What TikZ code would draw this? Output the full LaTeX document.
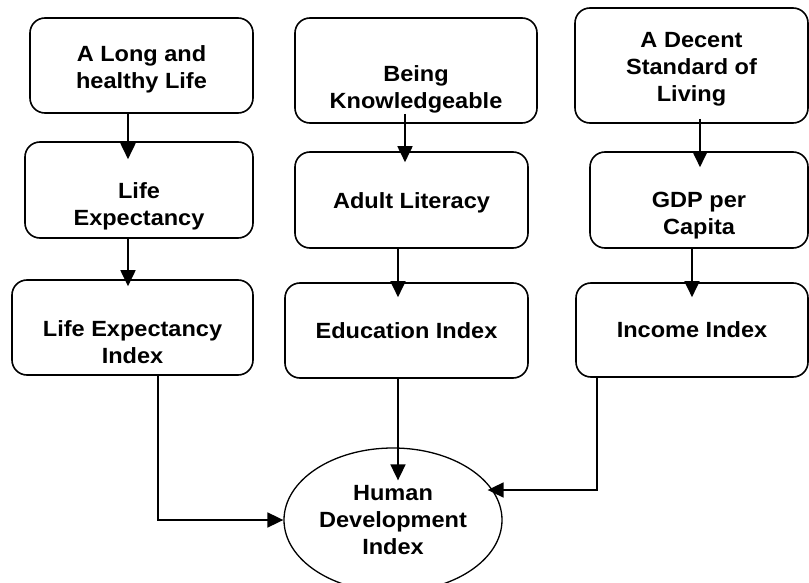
\documentclass[tikz,border=0pt]{standalone}
\usepackage{fontspec}
\setmainfont{Liberation Sans}[FakeStretch=1.07]
\usetikzlibrary{positioning, arrows.meta, calc, shapes.geometric}
% text set lower in its box, box size unchanged
\newcommand\lowered[2]{\raisebox{-#1}[\height][\depth]{\begin{tabular}{@{}c@{}}#2\end{tabular}}}

\begin{document}
\begin{tikzpicture}[x=1pt, y=-1pt,
    box/.style={draw, line width=1.6pt, rounded corners=15pt, fill=white, align=center, inner sep=0pt,
                font=\fontsize{22}{27}\selectfont\bfseries},
    flow/.style={-{Triangle[length=16pt, width=15pt]}, line width=1.8pt}]
    \useasboundingbox (0,0) rectangle (809,583);

    % health column
    \node[box, minimum width=223pt, minimum height=95pt] (life) at (141.5,65.5) {\lowered{4pt}{A Long and\\healthy Life}};
    \node[box, minimum width=228pt, minimum height=96pt] (lifeexp) at (139,190) {\lowered{17pt}{Life\\Expectancy}};
    \node[box, minimum width=241pt, minimum height=95pt] (leindex) at (132.5,327.5) {\lowered{17pt}{Life Expectancy\\Index}};

    % knowledge column
    \node[box, minimum width=242pt, minimum height=105pt] (know) at (416,70.5) {\lowered{19pt}{Being\\Knowledgeable}};
    \node[box, minimum width=233pt, minimum height=96pt] (literacy) at (411.5,200) {\lowered{3pt}{Adult Literacy}};
    \node[box, minimum width=243pt, minimum height=95pt] (eduindex) at (406.5,330.5) {Education Index};

    % income column
    \node[box, minimum width=233pt, minimum height=115pt] (living) at (691.5,65.5) {\lowered{4pt}{A Decent\\Standard of\\Living}};
    \node[box, minimum width=218pt, minimum height=96pt] (gdp) at (699,200) {\lowered{16pt}{GDP per\\Capita}};
    \node[box, minimum width=232pt, minimum height=94pt] (incindex) at (692,330) {Income Index};

    \node[draw, ellipse, line width=1.3pt, minimum width=218pt, minimum height=144pt, inner sep=0pt, align=center,
          font=\fontsize{22}{27}\selectfont\bfseries] (hdi) at (393,520) {Human\\Development\\Index};

    % arrows down each column
    \draw[flow, shorten >=-18pt] ([xshift=-13.5pt]life.south) -- ([xshift=-11pt]lifeexp.north);
    \draw[flow, shorten >=-7pt] ([xshift=-11pt]lifeexp.south) -- ([xshift=-4.5pt]leindex.north);
    \draw[flow, shorten <=-10pt, shorten >=-11pt] ([xshift=-11pt]know.south) -- ([xshift=-6.5pt]literacy.north);
    \draw[flow, shorten >=-15pt] ([xshift=-13.5pt]literacy.south) -- ([xshift=-8.5pt]eduindex.north);
    \draw[flow, shorten <=-5pt, shorten >=-16pt] ([xshift=8.5pt]living.south) -- ([xshift=1pt]gdp.north);
    \draw[flow, shorten >=-15pt] ([xshift=-7pt]gdp.south) -- (incindex.north);

    % the three indices feed the HDI
    \draw[flow] ([xshift=25.5pt]leindex.south) |- (hdi.west);
    \draw[flow, shorten >=-33pt] ([xshift=-8.5pt]eduindex.south) -- ([xshift=5pt]hdi.north);
    \draw[flow, shorten >=-15pt] ([xshift=-95pt]incindex.south) |- ([yshift=30pt]hdi.east);
\end{tikzpicture}
\end{document}
